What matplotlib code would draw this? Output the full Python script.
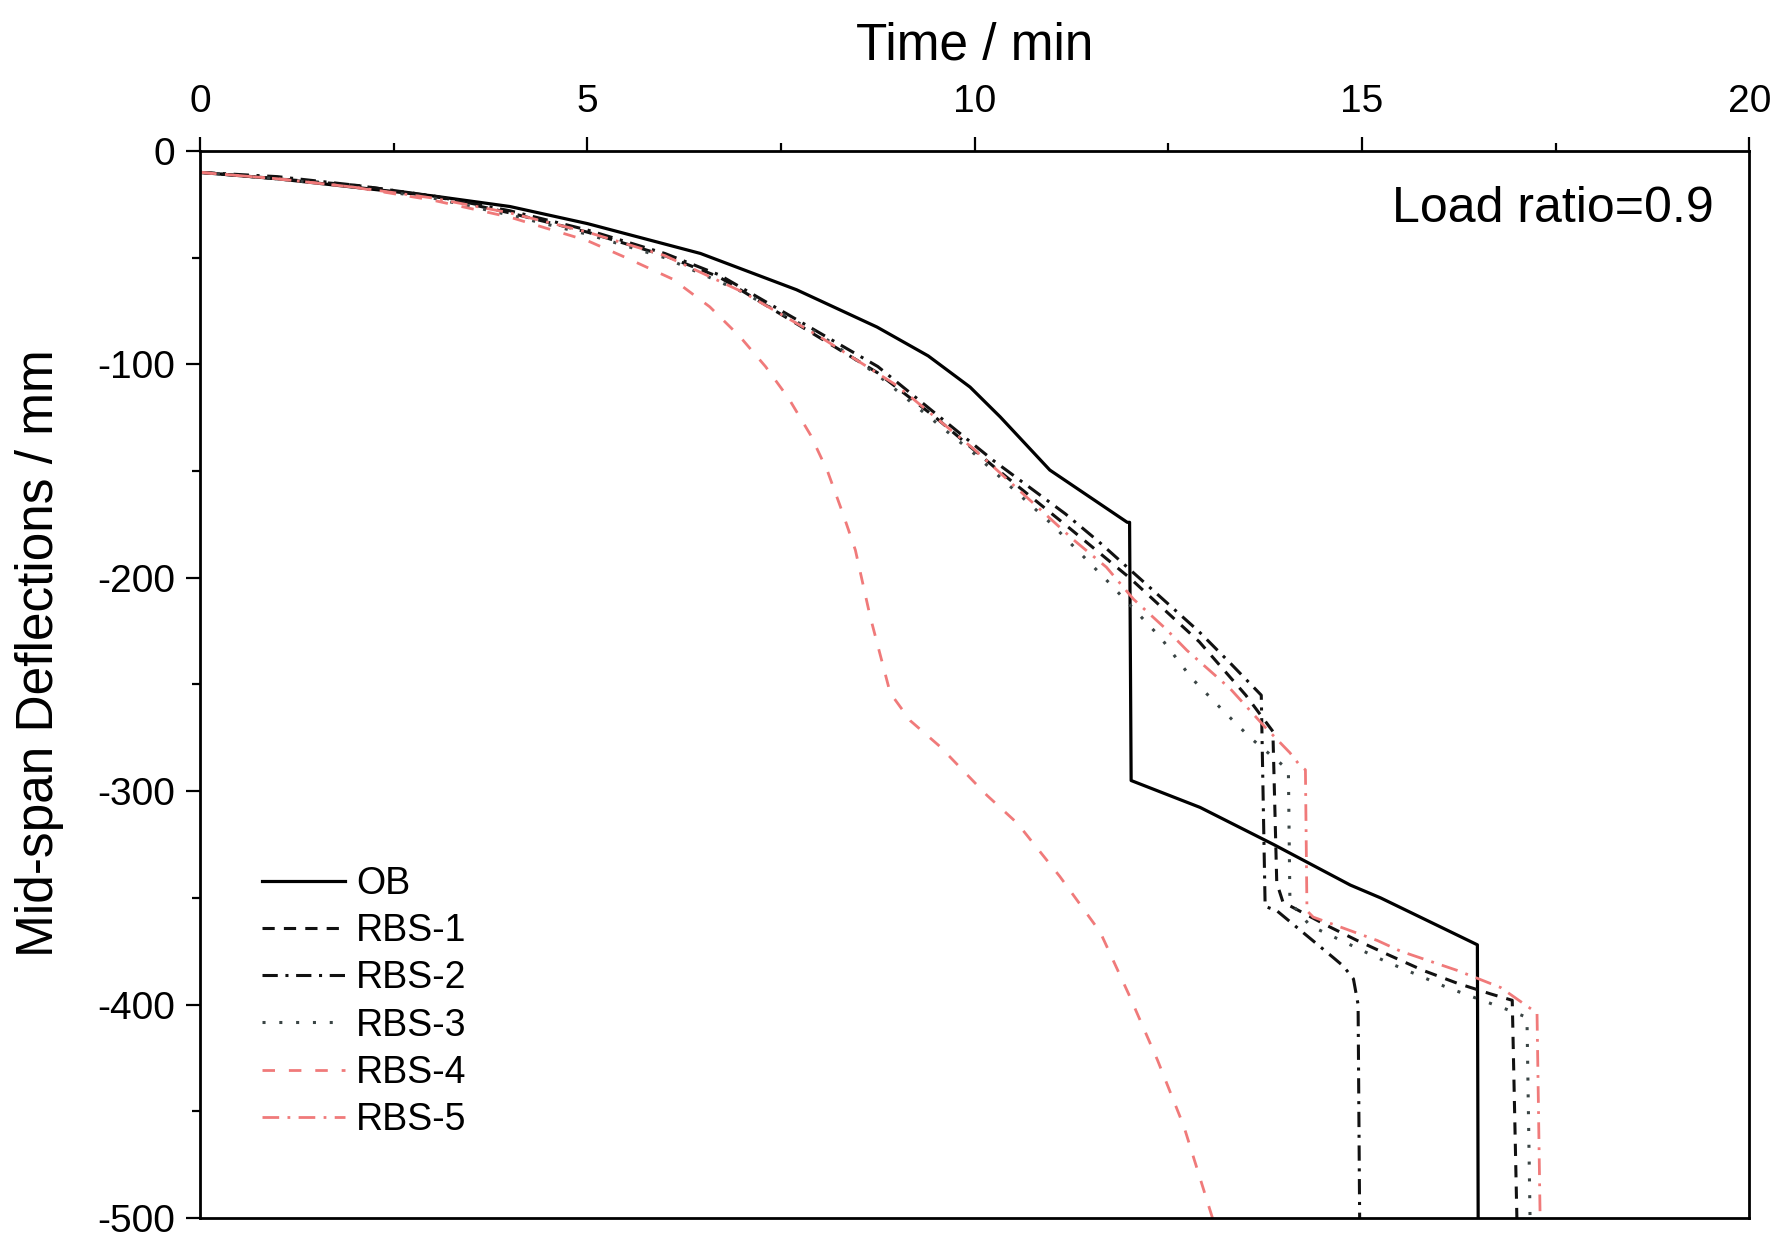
import matplotlib.pyplot as plt

plt.rcParams['font.family'] = ['Liberation Sans', 'DejaVu Sans']
plt.rcParams['axes.unicode_minus'] = False

# Дані (час, хв / прогин, мм)
ob_t = [0, 1, 2, 3, 4, 5, 6.46, 7.7, 8.74, 9.4, 9.94, 10.33, 10.97, 11.97, 12.0, 12.02,
        12.91, 13.86, 14.85, 15.24, 16.49, 16.5]
ob_d = [-10, -13, -17, -21, -26, -34, -48, -65, -82.5, -96, -110.6, -124.6, -149.5, -174, -174, -295,
        -307.6, -325, -344, -350, -372, -500]

rbs1_t = [0, 1, 2, 3, 4, 5, 6, 6.7, 7.75, 8.75, 9.5, 10.25, 11.2, 12.0, 12.9, 13.5, 13.85, 13.9,
          13.98, 14.55, 14.94, 15.36, 15.79, 16.23, 16.66, 16.94, 17.0]
rbs1_d = [-10, -13, -16, -21, -29, -38, -49, -59, -82, -104, -125, -148, -176, -200, -230, -255, -272, -343,
          -352, -363, -370, -377, -384, -390, -395, -398, -500]

rbs2_t = [0, 1, 2, 3, 4, 5, 6, 6.7, 7.75, 8.75, 9.46, 10.24, 11.17, 11.6, 12.03, 12.46, 12.89, 13.3,
          13.7, 13.75, 13.9, 14.63, 14.76, 14.89, 14.95, 14.97]
rbs2_d = [-10, -12, -16, -21, -28, -37, -48, -58, -80, -101, -122, -145, -170, -183, -197, -211, -225, -240,
          -255, -354, -356, -378, -382, -388, -400, -500]

rbs3_t = [0, 1, 2, 3, 4, 5, 6, 7, 8, 8.75, 10, 11, 11.7, 12.4, 12.8, 13.2, 13.56, 13.95, 14.05, 14.07,
          14.33, 15.08, 15.32, 16.1, 16.85, 17.13, 17.17]
rbs3_d = [-10, -13, -17, -22, -30, -39, -50, -66, -86, -105, -142, -175, -201, -228, -247, -262, -275, -287, -290, -352,
          -363, -376, -380, -392, -402, -406, -500]

rbs4_t = [0, 1, 2, 3, 4, 5, 5.5, 6.1, 6.58, 6.97, 7.3, 7.6, 7.88, 8.1, 8.3, 8.46, 8.65, 8.91, 9.17, 9.55,
          10.16, 10.55, 11.1, 11.62, 12.0, 12.36, 12.7, 13.07]
rbs4_d = [-10, -13, -17, -23, -31, -42, -50, -60, -73, -87, -101, -116, -133, -150, -170, -187, -218, -254, -267, -279,
          -302, -315, -340, -366, -396, -426, -457, -500]

rbs5_t = [0, 1, 2, 3, 4, 5, 6, 7, 8, 9, 10, 11.27, 11.7, 12.05, 12.47, 12.74, 13.3, 13.75, 14.07, 14.2,
          14.27, 14.29, 14.37, 15.2, 15.5, 16.23, 16.79, 17.26, 17.3]
rbs5_d = [-10, -13, -17, -22, -29, -38, -49, -66, -87, -110, -140, -182, -195, -210, -224, -234, -252, -270, -282, -288,
          -290, -356, -359, -370, -375, -384, -392, -404, -500]

red = '#f07a7a'

fig = plt.figure(figsize=(17.91, 12.37), dpi=100)
ax = fig.add_axes([0.1117, 0.0154, 0.865, 0.8625])

ax.plot(ob_t, ob_d, color='black', lw=2.3, label='OB')
ax.plot(rbs1_t, rbs1_d, color='#111111', lw=2.2, dashes=(4, 3), label='RBS-1')
ax.plot(rbs2_t, rbs2_d, color='#111111', lw=2.2, dashes=(5, 2.5, 1, 2.5), label='RBS-2')
ax.plot(rbs3_t, rbs3_d, color='#3a4545', lw=2.2, dashes=(1, 4.5), label='RBS-3')
ax.plot(rbs4_t, rbs4_d, color=red, lw=2.0, dashes=(4.5, 5), label='RBS-4')
ax.plot(rbs5_t, rbs5_d, color=red, lw=2.0, dashes=(6, 3, 1, 3), label='RBS-5')

ax.set_xlim(0, 20)
ax.set_ylim(-500, 0)
ax.xaxis.tick_top()
ax.xaxis.set_label_position('top')
ax.set_xticks([0, 5, 10, 15, 20])
ax.set_xticks([2.5, 7.5, 12.5, 17.5], minor=True)
ax.set_yticks([0, -100, -200, -300, -400, -500])
ax.set_yticks([-50, -150, -250, -350, -450], minor=True)
ax.tick_params(which='major', direction='out', length=10, width=1.6, labelsize=28, pad=8)
ax.tick_params(axis='x', which='major', pad=12)
ax.tick_params(which='minor', direction='out', length=5.5, width=1.6)
ax.tick_params(axis='x', which='both', top=True, bottom=False)
ax.tick_params(axis='y', which='both', left=True, right=False)
for s in ax.spines.values():
    s.set_linewidth(2)

ax.set_xlabel('Time / min', fontsize=37, labelpad=18)
ax.set_ylabel('Mid-span Deflections / mm', fontsize=37)
ax.yaxis.set_label_coords(-0.088, 0.529)

ax.text(0.977, 0.946, 'Load ratio=0.9', transform=ax.transAxes, ha='right', va='center', fontsize=36)

ax.legend(loc='upper left', bbox_to_anchor=(0.04, 0.33), frameon=False, fontsize=27,
          handlelength=2.2, handletextpad=0.3, labelspacing=0.3, borderaxespad=0, borderpad=0)

fig.savefig('out.png', dpi=100)
